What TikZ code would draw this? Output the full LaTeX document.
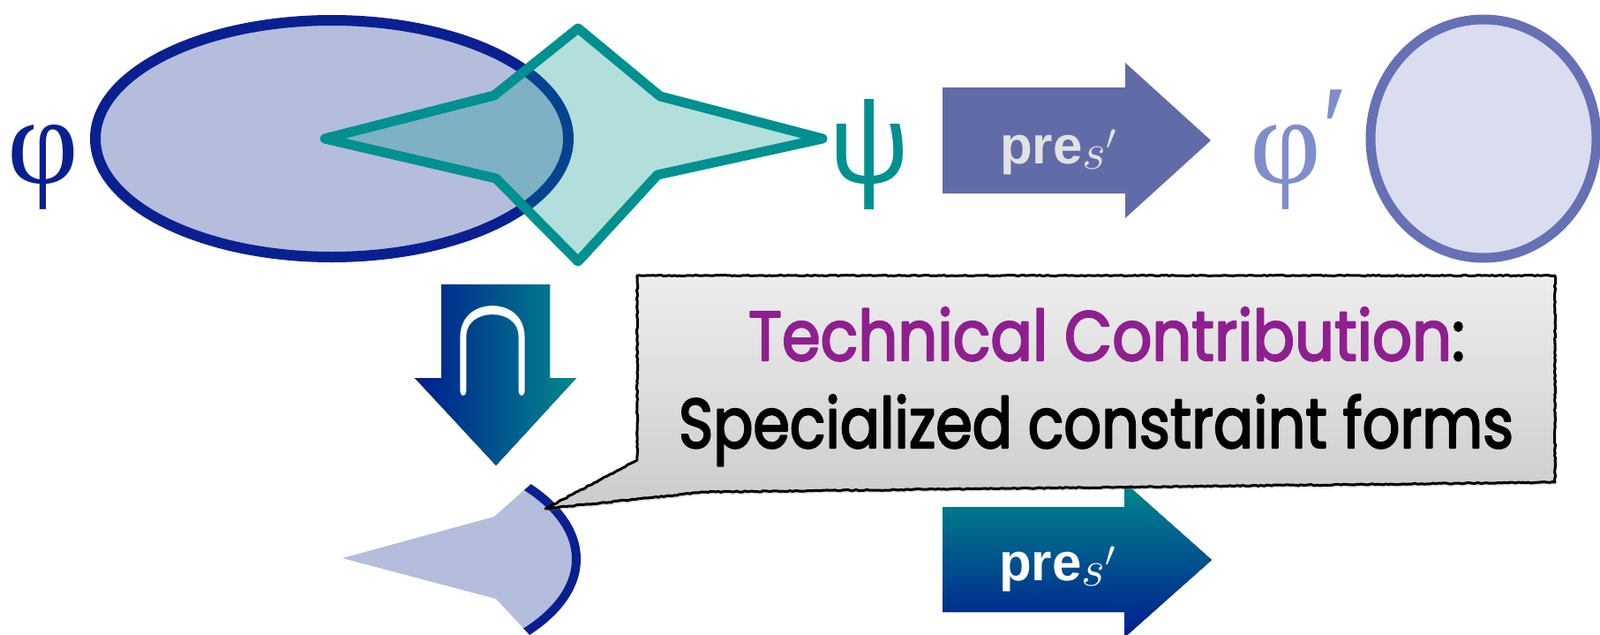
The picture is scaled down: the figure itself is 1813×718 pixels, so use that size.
\RequirePackage{fix-cm}
\documentclass[tikz,border=0pt]{standalone}
\usepackage{fontspec}
\usepackage{graphicx}
\newfontfamily\phifont{Liberation Serif}
\newfontfamily\psifont{Noto Sans}
\newfontfamily\calloutfont[FakeBold=3]{Poppins}
\newfontfamily\prefont{Liberation Sans}
\usetikzlibrary{decorations.pathmorphing,shadows}

\definecolor{phiblue}{RGB}{10,32,144}
\definecolor{ellfill}{RGB}{181,189,221}
\definecolor{tealc}{RGB}{0,144,144}
\definecolor{starfill}{RGB}{0,150,138}
\definecolor{phiprime}{RGB}{128,141,204}
\definecolor{arrowA}{RGB}{97,107,168}
\definecolor{rfill}{RGB}{217,221,239}
\definecolor{rstroke}{RGB}{101,113,180}
\definecolor{gradblue}{RGB}{0,28,142}
\definecolor{gradteal}{RGB}{0,137,140}
\definecolor{purp}{RGB}{143,31,143}
\definecolor{boxtop}{RGB}{237,237,237}
\definecolor{boxbot}{RGB}{204,204,204}
\definecolor{pretext}{RGB}{226,226,226}

\newcommand{\presub}{pre\raisebox{-6pt}{\fontsize{58}{58}\selectfont$s'$}}

\begin{document}
\begin{tikzpicture}[x=1pt,y=-1pt, line join=round,
  phisym/.style={font=\phifont\fontsize{140}{140}\selectfont, inner sep=0pt, anchor=base},
  psisym/.style={font=\psifont\fontsize{125}{125}\selectfont, inner sep=0pt, anchor=base},
  pretxt/.style={font=\prefont\bfseries\fontsize{60}{60}\selectfont, inner sep=0pt, anchor=base},
  calltxt/.style={font=\calloutfont\fontsize{79}{90}\selectfont, inner sep=0pt, anchor=base},
  brush/.style={line width=12pt},
]
\useasboundingbox (0,0) rectangle (1813,718);

% phi ellipse
\draw[phiblue, brush, fill=ellfill] (376,157) ellipse [x radius=268, y radius=134];
% psi star
\draw[tealc, line width=11pt, fill=starfill, fill opacity=0.3]
  (368,157) -- (560,108) -- (655,32) -- (748,109) -- (932,157) -- (745,198)
  -- (655,296) -- (562,202) -- cycle;

\node[phisym, text=phiblue] (phi) at (49,207) {φ};
\node[psisym, text=tealc] (psi) at (985,207) {ψ};

% top arrow
\fill[arrowA] (1068,99) -- (1275,99) -- (1275,71) -- (1372,159) -- (1275,247)
  -- (1275,219) -- (1068,219) -- cycle;
\node[pretxt, text=pretext] (pre1) at (1199,185) {\presub};

\node[phisym, text=phiprime] (phip) at (1472,207) {φ\raisebox{14pt}{′}};

% right ellipse
\draw[rstroke, line width=11pt, fill=rfill] (1681,157) ellipse [x radius=128, y radius=135];

% intersection arrow
\fill[left color=gradblue, right color=gradteal] (500,322) -- (623,322) -- (623,428)
  -- (653,428) -- (562,527) -- (470,428) -- (500,428) -- cycle;
\node[text=white, inner sep=0pt, anchor=south] (cap) at (559,446)
  {\resizebox{88pt}{91pt}{\boldmath$\cap$}};

% intersection result shape
\begin{scope}
  \clip (385,633) ellipse [x radius=268, y radius=134];
  \fill[ellfill] (388,632) -- (560,585) -- (655,501) -- (748,584) -- (938,633)
    -- (745,675) -- (655,778) -- (562,678) -- cycle;
\end{scope}
\begin{scope}
  \clip (388,632) -- (560,585) -- (655,501) -- (748,584) -- (938,633)
    -- (745,675) -- (655,778) -- (562,678) -- cycle;
  \draw[phiblue, line width=10pt] (385,633) ellipse [x radius=268, y radius=134];
\end{scope}

% bottom arrow
\fill[top color=gradteal, bottom color=gradblue] (1068,574) -- (1274,574) -- (1274,546)
  -- (1373,634) -- (1274,722) -- (1274,693) -- (1068,693) -- cycle;
\node[pretxt, text=white] (pre2) at (1198,657) {\presub};

% callout
\draw[black, line width=3pt, top color=boxtop, bottom color=boxbot,
  drop shadow={opacity=0.25, shadow xshift=1pt, shadow yshift=-3pt},
  decorate, decoration={random steps, segment length=3pt, amplitude=0.6pt}]
  (722,312) -- (1762,312) -- (1762,546) -- (800,557) -- (618,576) -- (722,521) -- cycle;
\node[calltxt] (t1) at (1254,408) {\resizebox{812pt}{\height}{\textcolor{purp}{Technical Contribution}:}};
\node[calltxt] (t2) at (1242,507) {\resizebox{946pt}{\height}{Specialized constraint forms}};
\end{tikzpicture}
\end{document}
